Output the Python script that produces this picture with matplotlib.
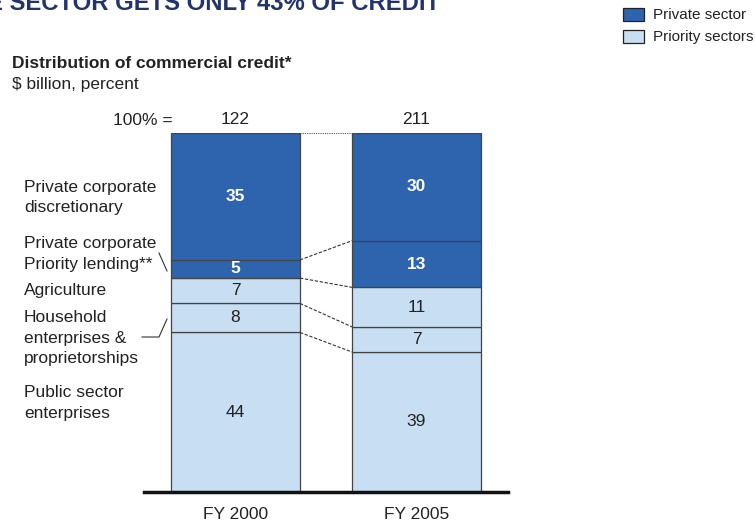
import numpy as np
import matplotlib
matplotlib.use("Agg")
import matplotlib.pyplot as plt
from matplotlib.patches import Rectangle
from matplotlib.lines import Line2D

plt.rcParams['font.family'] = ['Liberation Sans', 'DejaVu Sans']

# data (bottom -> top)
years = ["FY 2000", "FY 2005"]
totals = [122, 211]
segments = ["Public sector\nenterprises",
            "Household\nenterprises &\nproprietorships",
            "Agriculture",
            "Private corporate\nPriority lending**",
            "Private corporate\ndiscretionary"]
fy2000 = [44, 8, 7, 5, 35]
fy2005 = [39, 7, 11, 13, 30]
is_private = [False, False, False, True, True]

dark = "#2E64AE"
light = "#C8DEF2"
W, H = 755, 523


def fx(px):
    return px / W


def fy(py):
    return 1 - py / H


fig = plt.figure(figsize=(7.55, 5.23), dpi=100)
ax = fig.add_axes([fx(144), fy(492), fx(508) - fx(144), fy(133) - fy(492)])

bw = 129 / 181
xs = np.arange(len(years))
data = np.array([fy2000, fy2005], dtype=float)
shares = data / data.sum(axis=1, keepdims=True) * 100  # stacked to 100%

for i, x in enumerate(xs):
    bottom = 0
    for j, v in enumerate(shares[i]):
        ax.bar(x, v, bottom=bottom, width=bw,
               color=dark if is_private[j] else light,
               edgecolor="#444444", linewidth=0.9)
        txt_col = "white" if is_private[j] else "#222222"
        ax.text(x, bottom + v / 2, str(int(data[i, j])), ha="center", va="center",
                color=txt_col, fontsize=12.5,
                fontweight="bold" if is_private[j] else "normal")
        bottom += v
    ax.annotate(str(totals[i]), (x, 100), xytext=(0, 4), textcoords="offset points",
                ha="center", va="bottom", fontsize=12.5, color="#222222")

# connector lines between bars
cum0 = np.cumsum(shares[0])
cum1 = np.cumsum(shares[1])
for k in range(len(segments) - 1):
    ax.plot([xs[0] + bw / 2, xs[1] - bw / 2], [cum0[k], cum1[k]],
            color="#333333", lw=0.8, ls=(0, (3, 1.5)))
ax.plot([xs[0] + bw / 2, xs[1] - bw / 2], [100, 100],
        color="#555555", lw=0.8, ls=(0, (1, 1)))

ax.set_xlim(-0.5055, 1.5055)
ax.set_ylim(0, 100)
for s in ["top", "left", "right"]:
    ax.spines[s].set_visible(False)
ax.spines["bottom"].set_linewidth(2.5)
ax.spines["bottom"].set_color("#111111")
ax.set_yticks([])
ax.set_xticks(xs)
ax.set_xticklabels(years, fontsize=12.5, color="#222222")
ax.tick_params(axis="x", length=0, pad=11)

# left-hand segment labels
label_y = [403, 338, 291, 254, 197.5]
for lab, py in zip(segments, label_y):
    fig.text(fx(24), fy(py), lab, ha="left", va="center", fontsize=12.5,
             color="#222222", linespacing=1.45)

# leader lines
fig.add_artist(Line2D([fx(159), fx(167)], [fy(253), fy(271)], color="#333333", lw=0.8))
fig.add_artist(Line2D([fx(142), fx(159), fx(167)], [fy(337), fy(337), fy(319)],
                      color="#333333", lw=0.8))

fig.text(fx(143), fy(121), "100% =", ha="center", va="center", fontsize=12.5, color="#222222")

# headings
fig.text(fx(440), fy(9.5), "PRIVATE SECTOR GETS ONLY 43% OF CREDIT", ha="right",
         va="baseline", fontsize=17.2, fontweight="bold", color="#22336E")
fig.text(fx(12), fy(64), "Distribution of commercial credit*", ha="left", va="center",
         fontsize=12.5, fontweight="bold", color="#222222")
fig.text(fx(12), fy(85), "$ billion, percent", ha="left", va="center",
         fontsize=12.5, color="#222222")

# legend
for py, col, lab in [(8, dark, "Private sector"), (30, light, "Priority sectors")]:
    fig.add_artist(Rectangle((fx(623), fy(py + 13)), fx(644) - fx(623), 13 / H,
                             facecolor=col, edgecolor="#222222", lw=0.9))
    fig.text(fx(653), fy(py + 7), lab, ha="left", va="center", fontsize=11, color="#222222")

fig.savefig("out.png", dpi=100)
